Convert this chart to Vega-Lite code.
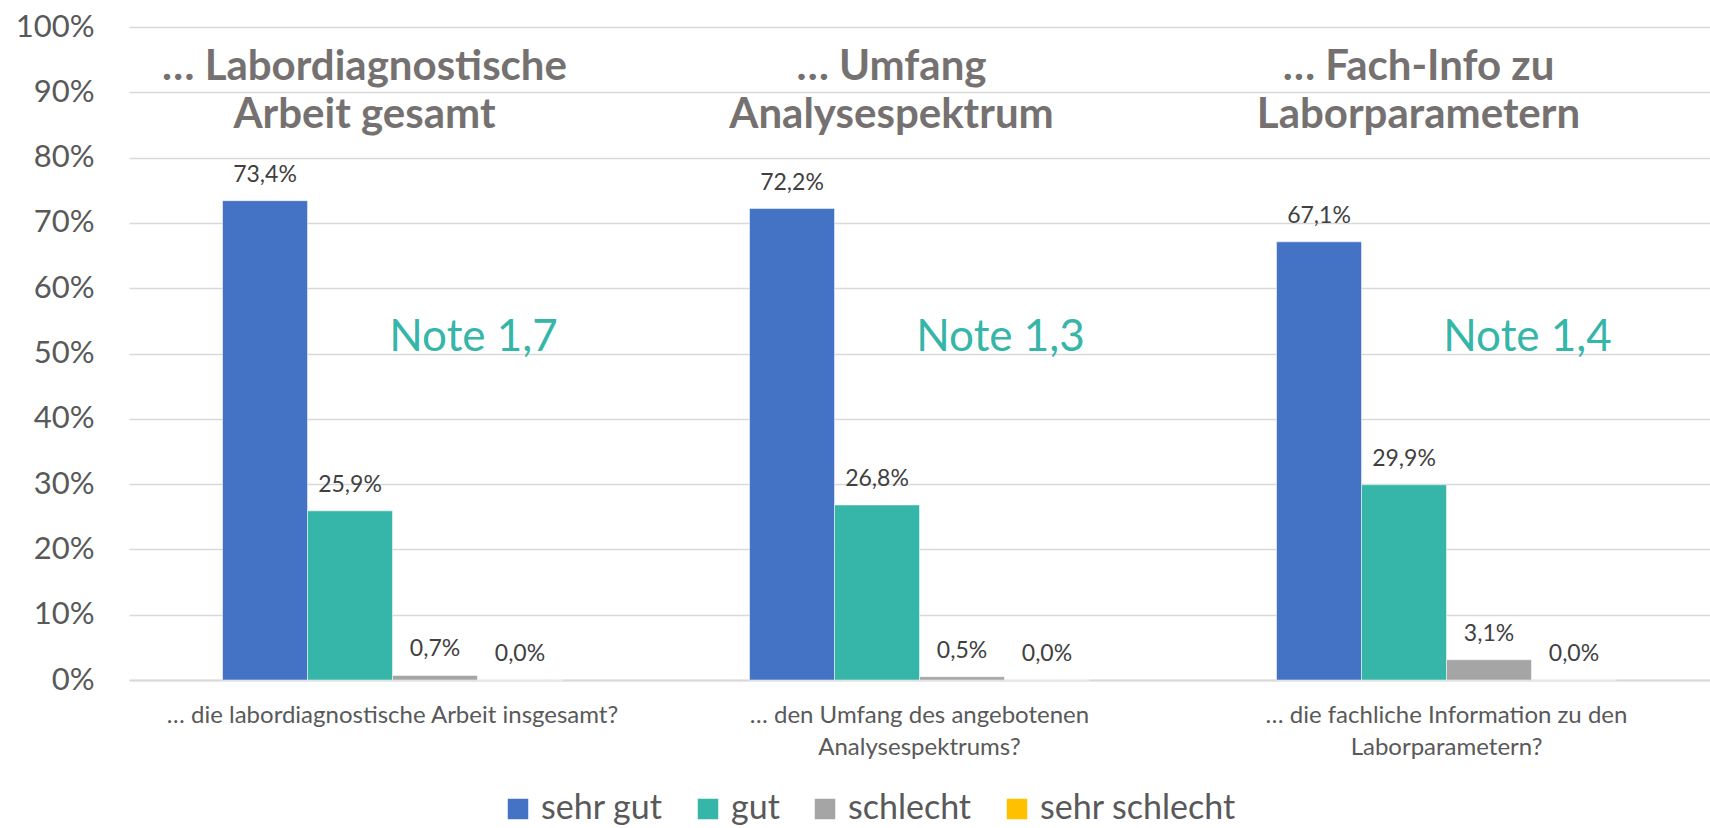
{
  "$schema": "https://vega.github.io/schema/vega-lite/v6.json",
  "width": 1581,
  "height": 653,
  "autosize": {"type": "none"},
  "padding": {"left": 129, "top": 27, "right": 0, "bottom": 148},
  "background": "#ffffff",
  "config": {
    "locale": {"number": {"decimal": ",", "thousands": ".", "grouping": [3], "currency": ["", " €"]}},
    "view": {"stroke": null},
    "font": "Lato"
  },
  "datasets": {
    "bars": [
      {"frage": "… die labordiagnostische Arbeit insgesamt?", "kategorie": "sehr gut", "wert": 0.734},
      {"frage": "… die labordiagnostische Arbeit insgesamt?", "kategorie": "gut", "wert": 0.259},
      {"frage": "… die labordiagnostische Arbeit insgesamt?", "kategorie": "schlecht", "wert": 0.007},
      {"frage": "… die labordiagnostische Arbeit insgesamt?", "kategorie": "sehr schlecht", "wert": 0.0},
      {"frage": "… den Umfang des angebotenen|Analysespektrums?", "kategorie": "sehr gut", "wert": 0.722},
      {"frage": "… den Umfang des angebotenen|Analysespektrums?", "kategorie": "gut", "wert": 0.268},
      {"frage": "… den Umfang des angebotenen|Analysespektrums?", "kategorie": "schlecht", "wert": 0.005},
      {"frage": "… den Umfang des angebotenen|Analysespektrums?", "kategorie": "sehr schlecht", "wert": 0.0},
      {"frage": "… die fachliche Information zu den|Laborparametern?", "kategorie": "sehr gut", "wert": 0.671},
      {"frage": "… die fachliche Information zu den|Laborparametern?", "kategorie": "gut", "wert": 0.299},
      {"frage": "… die fachliche Information zu den|Laborparametern?", "kategorie": "schlecht", "wert": 0.031},
      {"frage": "… die fachliche Information zu den|Laborparametern?", "kategorie": "sehr schlecht", "wert": 0.0}
    ],
    "titel": [
      {"frage": "… die labordiagnostische Arbeit insgesamt?", "zeile1": "… Labordiagnostische", "zeile2": "Arbeit gesamt", "note": "Note 1,7"},
      {"frage": "… den Umfang des angebotenen|Analysespektrums?", "zeile1": "… Umfang", "zeile2": "Analysespektrum", "note": "Note 1,3"},
      {"frage": "… die fachliche Information zu den|Laborparametern?", "zeile1": "… Fach-Info zu", "zeile2": "Laborparametern", "note": "Note 1,4"}
    ]
  },
  "encoding": {
    "x": {
      "field": "frage",
      "type": "nominal",
      "sort": ["… die labordiagnostische Arbeit insgesamt?", "… den Umfang des angebotenen|Analysespektrums?", "… die fachliche Information zu den|Laborparametern?"],
      "scale": {"paddingInner": 0.355, "paddingOuter": 0.1775},
      "axis": {
        "title": null,
        "labelAngle": 0,
        "labelExpr": "split(datum.label, '|')",
        "labelFont": "Lato",
        "labelFontSize": 24,
        "labelColor": "#595959",
        "labelLineHeight": 32,
        "labelPadding": 23,
        "labelLimit": 800,
        "ticks": false,
        "domainColor": "#D9D9D9",
        "domainWidth": 2
      }
    }
  },
  "layer": [
    {
      "data": {"name": "bars"},
      "mark": {"type": "bar", "stroke": "#ffffff", "strokeWidth": 0.5},
      "encoding": {
        "xOffset": {"field": "kategorie", "type": "nominal", "sort": ["sehr gut", "gut", "schlecht", "sehr schlecht"], "scale": {"paddingInner": 0, "paddingOuter": 0}},
        "y": {
          "field": "wert",
          "type": "quantitative",
          "scale": {"domain": [0, 1], "nice": false},
          "axis": {
            "title": null,
            "format": ".0%",
            "values": [0, 0.1, 0.2, 0.3, 0.4, 0.5, 0.6, 0.7, 0.8, 0.9, 1],
            "labelFont": "Lato",
            "labelFontSize": 31,
            "labelColor": "#595959",
            "labelPadding": 35,
            "ticks": false,
            "domain": false,
            "gridColor": "#D9D9D9",
            "gridWidth": 1.5
          }
        },
        "color": {
          "field": "kategorie",
          "type": "nominal",
          "sort": ["sehr gut", "gut", "schlecht", "sehr schlecht"],
          "scale": {"domain": ["sehr gut", "gut", "schlecht", "sehr schlecht"], "range": ["#4472C4", "#36B5A9", "#A5A5A5", "#FFC000"]},
          "legend": {
            "title": null,
            "orient": "none",
            "direction": "horizontal",
            "legendX": 372,
            "legendY": 765,
            "symbolType": "square",
            "symbolSize": 420,
            "symbolStrokeWidth": 0,
            "labelFont": "Lato",
            "labelFontSize": 34,
            "labelColor": "#595959",
            "labelOffset": 6,
            "columnPadding": 28,
            "labelLimit": 400
          }
        }
      }
    },
    {
      "data": {"name": "bars"},
      "mark": {"type": "text", "baseline": "middle", "dy": -26, "fontSize": 23, "color": "#404040", "font": "Lato"},
      "encoding": {
        "xOffset": {"field": "kategorie", "type": "nominal", "sort": ["sehr gut", "gut", "schlecht", "sehr schlecht"]},
        "y": {"field": "wert", "type": "quantitative"},
        "text": {"field": "wert", "type": "quantitative", "format": ".1%"}
      }
    },
    {
      "data": {"name": "titel"},
      "mark": {"type": "text", "baseline": "middle", "align": "center", "dx": -28, "fontSize": 42, "fontWeight": "bold", "color": "#767171", "font": "Lato"},
      "encoding": {
        "y": {"datum": 0.938, "type": "quantitative"},
        "text": {"field": "zeile1"}
      }
    },
    {
      "data": {"name": "titel"},
      "mark": {"type": "text", "baseline": "middle", "align": "center", "dx": -28, "fontSize": 42, "fontWeight": "bold", "color": "#767171", "font": "Lato"},
      "encoding": {
        "y": {"datum": 0.866, "type": "quantitative"},
        "text": {"field": "zeile2"}
      }
    },
    {
      "data": {"name": "titel"},
      "mark": {"type": "text", "baseline": "middle", "align": "center", "dx": 81, "fontSize": 44, "fontWeight": "normal", "color": "#36B5A9", "font": "Lato"},
      "encoding": {
        "y": {"datum": 0.524, "type": "quantitative"},
        "text": {"field": "note"}
      }
    }
  ]
}
